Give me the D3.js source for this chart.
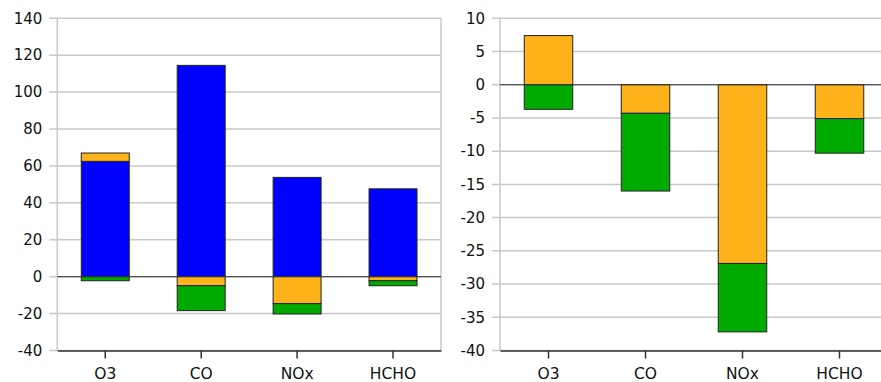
<!DOCTYPE html>
<html><head><meta charset="utf-8">
<script src="https://cdn.jsdelivr.net/npm/d3@7"></script>
<style>body{margin:0;background:#fff}svg{display:block}</style>
</head><body><svg id="c" width="881" height="382"></svg>
<script>
const categories = ["O3", "CO", "NOx", "HCHO"];
// left panel
const leftBlue   = [62.5, 114.5, 53.8, 47.6];
const leftOrange = [4.5, -4.9, -14.6, -2.2];
const leftGreen  = [-2.2, -13.5, -5.6, -2.7];
const leftTicks  = [-40, -20, 0, 20, 40, 60, 80, 100, 120, 140];
// right panel
const rightOrange = [7.4, -4.3, -26.9, -5.1];
const rightGreen  = [-3.7, -11.7, -10.3, -5.2];
const rightTicks  = [-40, -35, -30, -25, -20, -15, -10, -5, 0, 5, 10];

const colors = {blue: "#0000ff", orange: "#ffb31a", green: "#00aa00"};
const svg = d3.select("#c");
const font = "DejaVu Sans, sans-serif";

function panel(opts) {
  const {x0, x1, y0, y1, domain, ticks, series} = opts;
  const g = svg.append("g");
  const x = d3.scaleBand().domain(categories).range([x0, x1]).paddingInner(0.5).paddingOuter(0.25);
  const y = d3.scaleLinear().domain(domain).range([y1, y0]);
  // grid
  g.append("g").selectAll("line").data(ticks).join("line")
    .attr("x1", x0 - 8).attr("x2", x1).attr("y1", d => y(d)).attr("y2", d => y(d))
    .attr("stroke", "#c8c8c8").attr("stroke-width", 1.5);
  // frame
  g.append("line").attr("x1", x0).attr("x2", x0).attr("y1", y0).attr("y2", y1).attr("stroke", "#c8c8c8").attr("stroke-width", 1.5);
  g.append("line").attr("x1", x1).attr("x2", x1).attr("y1", y0).attr("y2", y1).attr("stroke", "#c8c8c8").attr("stroke-width", 1.5);
  // y labels
  g.append("g").selectAll("text").data(ticks).join("text")
    .attr("x", x0 - opts.labelGap).attr("y", d => y(d)).attr("dy", "0.35em")
    .attr("text-anchor", "end").attr("font-family", font).attr("font-size", 15).attr("fill", "#111")
    .text(d => d);
  // stacked bars (diverging)
  const rows = categories.map((c, i) => { const r = {cat: c}; series.forEach(s => r[s.key] = s.values[i]); return r; });
  const stack = d3.stack().keys(series.map(s => s.key)).offset(d3.stackOffsetDiverging);
  const layers = stack(rows);
  layers.forEach(layer => {
    g.append("g").selectAll("rect").data(layer).join("rect")
      .attr("x", d => x(d.data.cat)).attr("width", x.bandwidth())
      .attr("y", d => y(Math.max(d[0], d[1]))).attr("height", d => Math.abs(y(d[0]) - y(d[1])))
      .attr("fill", colors[layer.key]).attr("stroke", "#222").attr("stroke-width", 1);
  });
  // zero line
  g.append("line").attr("x1", x0).attr("x2", x1).attr("y1", y(0)).attr("y2", y(0)).attr("stroke", "#333").attr("stroke-width", 1);
  // x axis
  const ax = g.append("g").attr("transform", `translate(0,${y1})`)
    .call(d3.axisBottom(x).tickSize(8).tickPadding(9).tickSizeOuter(0));
  ax.select(".domain").attr("stroke", "#333").attr("stroke-width", 1.5);
  ax.selectAll(".tick line").attr("stroke", "#333").attr("stroke-width", 1.5);
  ax.selectAll("text").attr("font-family", font).attr("font-size", 15.5).attr("fill", "#111");
}

panel({x0: 57.3, x1: 441, y0: 18.3, y1: 350.5, domain: [-40, 140], ticks: leftTicks, labelGap: 15,
  series: [{key: "blue", values: leftBlue}, {key: "orange", values: leftOrange}, {key: "green", values: leftGreen}]});
panel({x0: 500, x1: 888, y0: 18.3, y1: 350.5, domain: [-40, 10], ticks: rightTicks, labelGap: 15,
  series: [{key: "orange", values: rightOrange}, {key: "green", values: rightGreen}]});
</script></body></html>
